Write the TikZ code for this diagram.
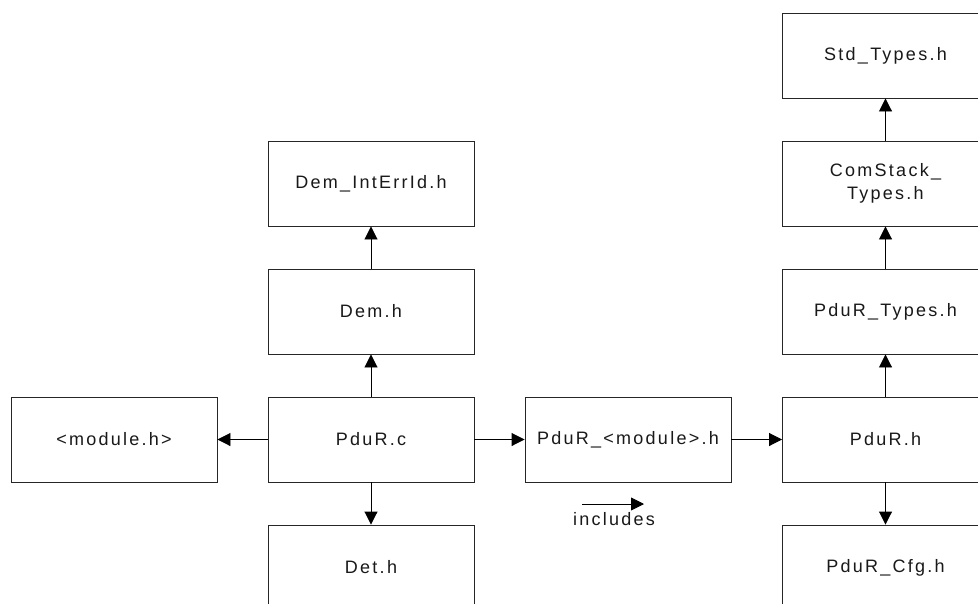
\documentclass[tikz,border=0pt]{standalone}
\usepackage{fontspec}
\setmainfont{Liberation Sans}[LetterSpace=12.5]
\usetikzlibrary{arrows.meta}
\begin{document}
\begin{tikzpicture}[x=1pt,y=-1pt,
  font=\fontsize{18}{22.7}\selectfont,
  filebox/.style={draw=black!85,line width=0.9pt,minimum width=206pt,minimum height=85pt,
    inner sep=0pt,align=center,text=black!90},
  incl/.style={draw=black,line width=0.9pt,-{Triangle[length=13pt,width=13pt]}}]
\useasboundingbox (0,0) rectangle (978,603);
\clip (0,0) rectangle (978,603);
\fill[white] (0,0) rectangle (978,603);

% column of PduR.c and its direct includes
\node[filebox] (demerr) at (371,183.5) {Dem\_IntErrId.h};
\node[filebox] (dem)    at (371,311.5) {Dem.h};
\node[filebox] (pdurc)  at (371,439.5) {PduR.c};
\node[filebox] (det)    at (371,567.5) {Det.h};

% left and middle
\node[filebox] (module)    at (114,439.5) {<module.h>};
\node[filebox] (pdurmod)   at (628,439.5) {PduR\_<module>.h};

% column of PduR.h
\node[filebox] (stdtypes)  at (885.5,55.5)  {Std\_Types.h};
\node[filebox] (comstack)  at (885.5,183.5) {ComStack\_\\Types.h};
\node[filebox] (pdurtypes) at (885.5,311.5) {PduR\_Types.h};
\node[filebox] (pdurh)     at (885.5,439.5) {PduR.h};
\node[filebox] (pdurcfg)   at (885.5,567.5) {PduR\_Cfg.h};

% include relations
\draw[incl] (dem) -- (demerr);
\draw[incl] (pdurc) -- (dem);
\draw[incl] (pdurc) -- (det);
\draw[incl] (pdurc) -- (module);
\draw[incl] (pdurc) -- (pdurmod);
\draw[incl] (pdurmod) -- (pdurh);
\draw[incl] (pdurh) -- (pdurtypes);
\draw[incl] (pdurtypes) -- (comstack);
\draw[incl] (comstack) -- (stdtypes);
\draw[incl] (pdurh) -- (pdurcfg);

% legend
\coordinate (legA) at (582,504);
\coordinate (legB) at (644,504);
\draw[incl] (legA) -- (legB);
\node[anchor=base,text=black!90] (legtext) at (614,525) {includes};
\end{tikzpicture}
\end{document}
